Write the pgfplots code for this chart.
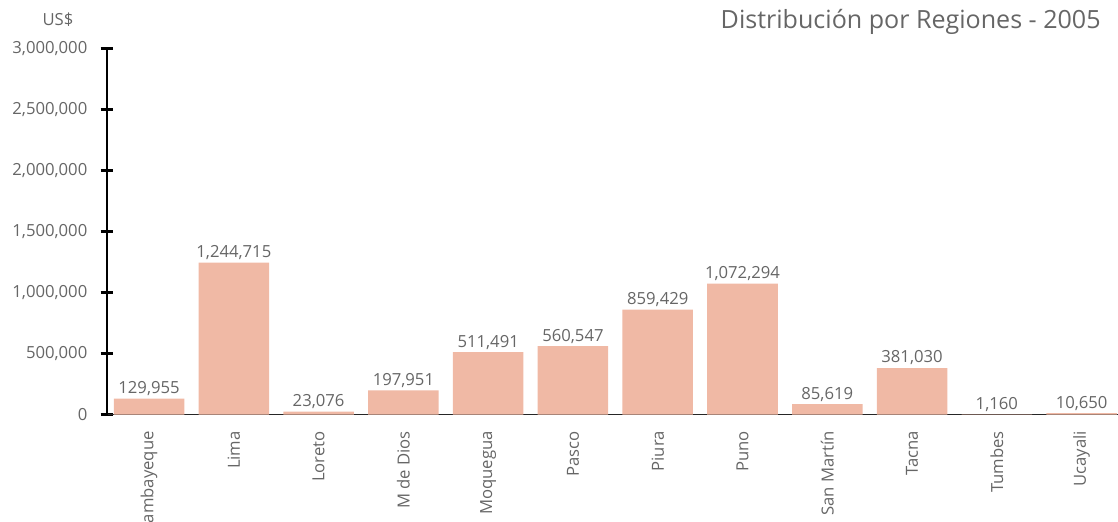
\documentclass[border=0pt]{standalone}
\usepackage{pgfplots}
\pgfplotsset{compat=1.18}
\usepackage{fontspec}
\setmainfont{Open Sans}
\definecolor{barc}{RGB}{240,185,165}
\definecolor{txt}{RGB}{102,102,102}
\begin{document}
\begin{tikzpicture}[font=\fontsize{12.5}{15}\selectfont]
\begin{axis}[
  at={(0,0)}, anchor=south west,
  scale only axis, width=763pt, height=274.5pt,
  xmin=-0.5, xmax=11.5, ymin=0, ymax=3000000,
  axis x line*=bottom, axis y line*=left,
  x axis line style={line width=0.9pt, black!85},
  y axis line style={line width=1.5pt, black},
  xtick={0,...,11},
  xticklabels={Lambayeque,Lima,Loreto,M de Dios,Moquegua,Pasco,Piura,Puno,San Martín,Tacna,Tumbes,Ucayali},
  xtick style={draw=none},
  xticklabel style={rotate=90, anchor=east, text=txt, font=\fontsize{12.5}{15}\selectfont},
  extra x ticks={-0.5,0.5,...,11.5},
  extra x tick labels={},
  extra x tick style={tick align=outside, major tick length=4.5pt, tick style={draw=black, line width=0.9pt}},
  scaled y ticks=false,
  ytick={0,500000,1000000,1500000,2000000,2500000,3000000},
  yticklabels={0,{500,000},{1,000,000},{1,500,000},{2,000,000},{2,500,000},{3,000,000}},
  yticklabel style={text=txt, font=\fontsize{12.5}{15}\selectfont, xshift=-6.5pt},
  tick align=center, major tick length=9pt,
  ytick style={line width=2.25pt, black},
  ybar, bar width=52.9pt, bar shift=0pt,
  nodes near coords,
  point meta=explicit symbolic,
  every node near coord/.append style={text=txt, font=\fontsize{12.5}{15}\selectfont, inner sep=2pt},
  clip=false,
]
\addplot[fill=barc, draw=none] table[x=x, y=y, meta=lab] {
x y lab
0 129955 129,955
1 1244715 1,244,715
2 23076 23,076
3 197951 197,951
4 511491 511,491
5 560547 560,547
6 859429 859,429
7 1072294 1,072,294
8 85619 85,619
9 381030 381,030
10 1160 1,160
11 10650 10,650
};
\end{axis}
\node[text=txt, font=\fontsize{12.5}{15}\selectfont] at (-36.5pt,296pt) {US\$};
\node[text=txt, anchor=east, font=\fontsize{18.8}{22}\selectfont] at (749pt,294.4pt) {Distribución por Regiones - 2005};
\pgfresetboundingbox
\path[use as bounding box] (-80pt,-79.9pt) rectangle (758.5pt,310.9pt);
\end{tikzpicture}
\end{document}
